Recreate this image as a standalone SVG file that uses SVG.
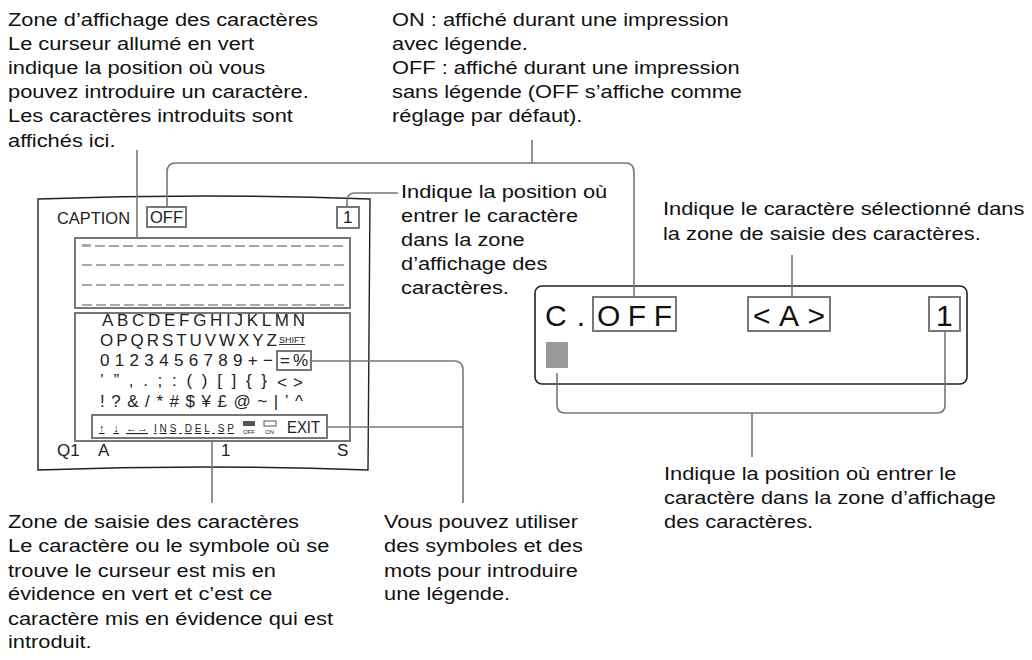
<svg xmlns="http://www.w3.org/2000/svg" width="1032" height="660" viewBox="0 0 1032 660">
<style>
.t{font-family:"Liberation Sans",Arial,sans-serif;font-size:18.5px;fill:#111}
.s{font-family:"Liberation Sans",Arial,sans-serif;font-size:17px;fill:#222}
.k{font-family:"Liberation Sans",Arial,sans-serif;font-size:17px;fill:#222}
.sm{font-family:"Liberation Sans",Arial,sans-serif;fill:#222;text-decoration:underline}
.b{fill:none;stroke:#777;stroke-width:2}
.c{fill:none;stroke:#777;stroke-width:1.6}
.big{font-family:"Liberation Sans",Arial,sans-serif;font-size:30px;fill:#111}
.d{stroke:#555;stroke-width:1.2;stroke-dasharray:10 4}
</style>
<rect width="1032" height="660" fill="#fff"/>
<g id="labels">
<g transform="translate(8,0) scale(1.18,1)">
<text class="t" x="0" y="26">Zone d’affichage des caractères</text>
<text class="t" x="0" y="50">Le curseur allumé en vert</text>
<text class="t" x="0" y="74">indique la position où vous</text>
<text class="t" x="0" y="98">pouvez introduire un caractère.</text>
<text class="t" x="0" y="122">Les caractères introduits sont</text>
<text class="t" x="0" y="147">affichés ici.</text>
</g>
<g transform="translate(392,0) scale(1.18,1)">
<text class="t" x="0" y="26">ON : affiché durant une impression</text>
<text class="t" x="0" y="50">avec légende.</text>
<text class="t" x="0" y="74">OFF : affiché durant une impression</text>
<text class="t" x="0" y="98">sans légende (OFF s’affiche comme</text>
<text class="t" x="0" y="122">réglage par défaut).</text>
</g>
<g transform="translate(401,0) scale(1.18,1)">
<text class="t" x="0" y="198">Indique la position où</text>
<text class="t" x="0" y="222">entrer le caractère</text>
<text class="t" x="0" y="246">dans la zone</text>
<text class="t" x="0" y="270">d’affichage des</text>
<text class="t" x="0" y="294">caractères.</text>
</g>
<g transform="translate(663,0) scale(1.18,1)">
<text class="t" x="0" y="215">Indique le caractère sélectionné dans</text>
<text class="t" x="0" y="240">la zone de saisie des caractères.</text>
</g>
<g transform="translate(664,0) scale(1.18,1)">
<text class="t" x="0" y="480">Indique la position où entrer le</text>
<text class="t" x="0" y="504">caractère dans la zone d’affichage</text>
<text class="t" x="0" y="528">des caractères.</text>
</g>
<g transform="translate(384,0) scale(1.18,1)">
<text class="t" x="0" y="528">Vous pouvez utiliser</text>
<text class="t" x="0" y="552">des symboles et des</text>
<text class="t" x="0" y="577">mots pour introduire</text>
<text class="t" x="0" y="600">une légende.</text>
</g>
<g transform="translate(8,0) scale(1.18,1)">
<text class="t" x="0" y="528">Zone de saisie des caractères</text>
<text class="t" x="0" y="552">Le caractère ou le symbole où se</text>
<text class="t" x="0" y="577">trouve le curseur est mis en</text>
<text class="t" x="0" y="600">évidence en vert et c’est ce</text>
<text class="t" x="0" y="625">caractère mis en évidence qui est</text>
<text class="t" x="0" y="648">introduit.</text>
</g>
</g>
<g id="screen">
<path d="M38,199 Q204,193 370,199 L368,470 Q204,464 38,470 Z" fill="none" stroke="#222" stroke-width="1.4"/>
<text class="s" x="57" y="224" textLength="73" lengthAdjust="spacingAndGlyphs">CAPTION</text>
<rect class="b" x="147" y="207" width="39" height="20"/>
<text class="s" x="150" y="223" textLength="33" lengthAdjust="spacingAndGlyphs">OFF</text>
<rect class="b" x="337" y="207" width="22" height="21"/>
<text class="s" x="343" y="223">1</text>
<rect class="b" x="75" y="238" width="275" height="70"/>
<rect x="82" y="244" width="9" height="3" fill="#aaa"/>
<line class="d" x1="95" y1="246" x2="346" y2="246"/>
<line class="d" x1="82" y1="265" x2="346" y2="265"/>
<line class="d" x1="82" y1="285" x2="346" y2="285"/>
<line class="d" x1="82" y1="305" x2="346" y2="305"/>
<rect class="b" x="75" y="313" width="275" height="128"/>
<text class="k" x="102" y="326" textLength="203" lengthAdjust="spacing">ABCDEFGHIJKLMN</text>
<text class="k" x="100" y="346" textLength="177" lengthAdjust="spacing">OPQRSTUVWXYZ</text>
<text class="sm" x="279" y="343" font-size="9" textLength="26" lengthAdjust="spacingAndGlyphs">SHIFT</text>
<text class="k" x="100" y="366" textLength="173" lengthAdjust="spacing">0123456789+−</text>
<rect class="b" x="277" y="351" width="34" height="19"/>
<text class="k" x="280" y="366" textLength="28" lengthAdjust="spacing">=%</text>
<text class="k" x="100" y="386" textLength="167" lengthAdjust="spacing">’”,.;:()[]{}</text>
<text class="k" x="277" y="388" font-size="15" textLength="26" lengthAdjust="spacing">&lt;&gt;</text>
<text class="k" x="100" y="407" textLength="203" lengthAdjust="spacing">!?&amp;/*#$¥£@~|’^</text>
<rect class="b" x="92" y="415" width="235" height="23"/>
<text class="sm" x="99" y="432" font-size="11" font-weight="bold" textLength="20" lengthAdjust="spacing">↑↓</text>
<text class="sm" x="126" y="432" font-size="11" font-weight="bold" textLength="22" lengthAdjust="spacing">←→</text>
<text class="sm" x="154" y="432" font-size="10" textLength="80" lengthAdjust="spacing">INS DEL  SP</text>
<rect x="243" y="421" width="12" height="5" fill="#555"/>
<text x="243" y="434" font-family="Liberation Sans,sans-serif" font-size="6" fill="#222">OFF</text>
<rect x="264" y="421" width="12" height="5" fill="none" stroke="#555"/>
<text x="265" y="434" font-family="Liberation Sans,sans-serif" font-size="6" fill="#222">ON</text>
<text class="s" x="287" y="433" textLength="33" lengthAdjust="spacingAndGlyphs">EXIT</text>
<text class="s" x="57" y="456">Q1</text>
<text class="s" x="98" y="456">A</text>
<text class="s" x="221" y="456">1</text>
<text class="s" x="337" y="456">S</text>
</g>
<g id="panel">
<rect x="535" y="286" width="432" height="98" rx="7" fill="none" stroke="#222" stroke-width="1.6"/>
<text class="big" x="545" y="326" textLength="40" lengthAdjust="spacing">C.</text>
<rect class="b" x="593" y="297" width="83" height="34"/>
<text class="big" x="597" y="326" textLength="75" lengthAdjust="spacing">OFF</text>
<rect class="b" x="748" y="297" width="82" height="34"/>
<text class="big" x="753" y="326" textLength="72" lengthAdjust="spacing">&lt;A&gt;</text>
<rect class="b" x="929" y="297" width="31" height="34"/>
<text class="big" x="936" y="326">1</text>
<rect x="546" y="342" width="22" height="26" fill="#999"/>
</g>
<g id="connectors">
<line class="c" x1="137" y1="150" x2="137" y2="238"/>
<path class="c" d="M167,207 V172 Q167,163 176,163 H625 Q634,163 634,172 V297"/>
<line class="c" x1="532" y1="140" x2="532" y2="163"/>
<path class="c" d="M347,207 V201 Q347,193 355,193 H398"/>
<line class="c" x1="792" y1="255" x2="792" y2="297"/>
<path class="c" d="M557,373 V405 Q557,413 565,413 H937 Q945,413 945,405 V331"/>
<line class="c" x1="752" y1="413" x2="752" y2="457"/>
<path class="c" d="M311,361 H454 Q463,361 463,370 V503"/>
<line class="c" x1="327" y1="427" x2="463" y2="427"/>
<line class="c" x1="212" y1="441" x2="212" y2="503"/>
</g>
</svg>
